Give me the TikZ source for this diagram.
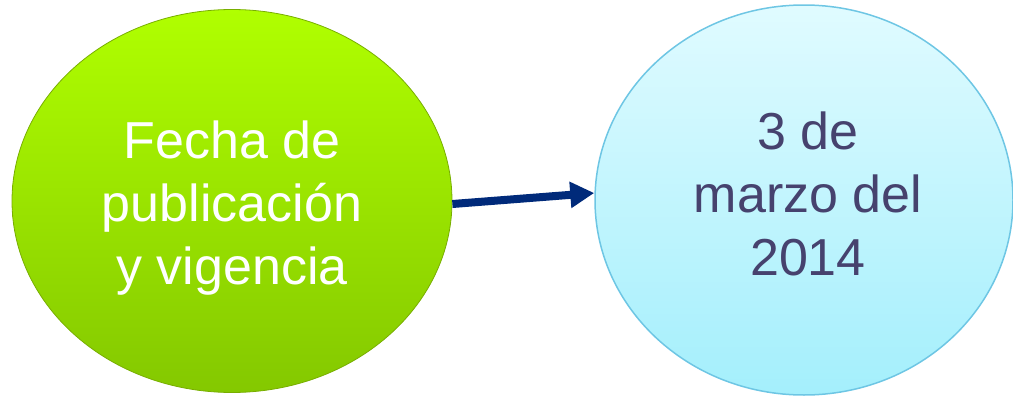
\documentclass[tikz,border=0pt]{standalone}
\usepackage{fontspec}
\setmainfont{Liberation Sans}
\usetikzlibrary{shapes.geometric,arrows.meta}
\definecolor{limetop}{HTML}{B0FF00}
\definecolor{limebot}{HTML}{84C800}
\definecolor{limeedge}{HTML}{78AE00}
\definecolor{skytop}{HTML}{E0FBFF}
\definecolor{skybot}{HTML}{A4EFFC}
\definecolor{skyedge}{HTML}{6EC6E4}
\definecolor{slatetext}{HTML}{46426E}
\definecolor{navyarrow}{HTML}{002A7A}
\begin{document}
\begin{tikzpicture}[x=1pt, y=-1pt,
    bubbletext/.style={align=center, inner sep=0pt,
      font=\fontsize{52}{63}\selectfont},
    greenbubble/.style={ellipse, inner sep=0pt,
      top color=limetop, bottom color=limebot,
      draw=limeedge, line width=0.8pt,
      minimum width=440pt, minimum height=383pt},
    bluebubble/.style={ellipse, inner sep=0pt,
      top color=skytop, bottom color=skybot,
      draw=skyedge, line width=1.5pt,
      minimum width=418pt, minimum height=390pt}]
  \useasboundingbox (0,0) rectangle (1013,399); % Page size

  % The two bubbles, text set as centre labels
  \node[greenbubble,
    label={[bubbletext, text=white, yshift=-7pt]center:{Fecha de\\publicación\\y vigencia}}]
    (fecha) at (232,201) {};
  \node[bluebubble,
    label={[bubbletext, text=slatetext, xshift=4pt, yshift=6pt]center:{3 de\\marzo del\\2014}}]
    (dia) at (804,200) {};

  % Arrow between them
  \draw[navyarrow, line width=8pt, -{Triangle[length=24pt, width=25pt]}]
    ([yshift=-3pt]fecha.east) -- ([yshift=7pt]dia.west);
\end{tikzpicture}
\end{document}
